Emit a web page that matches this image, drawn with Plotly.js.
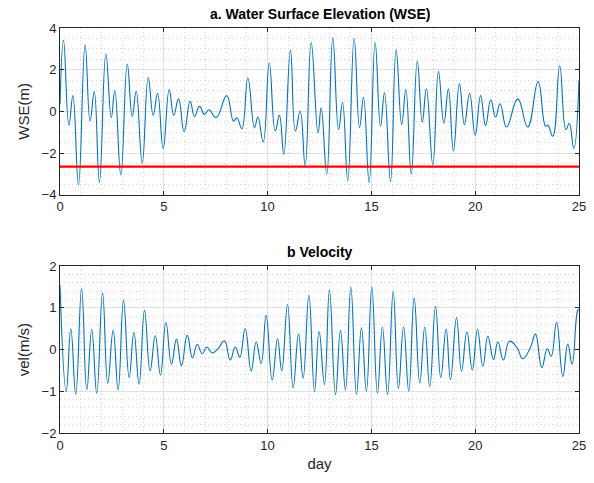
<!DOCTYPE html>
<html>
<head>
<meta charset="utf-8">
<script src="https://cdn.plot.ly/plotly-3.0.1.min.js"></script>
<style>html,body{margin:0;padding:0;background:#fff;}#plot{width:594px;height:483px;}</style>
</head>
<body>
<div id="plot"></div>
<script>
// Water surface elevation: local extremes (day, metres)
const wseDay = [0.00,0.17,0.43,0.62,0.89,1.21,1.45,1.65,1.90,2.21,2.47,2.64,2.93,3.24,3.48,3.67,3.96,4.25,4.49,4.70,4.97,5.26,5.48,5.71,5.98,6.27,6.48,6.72,6.96,7.17,7.52,8.03,8.36,8.52,8.76,9.05,9.37,9.53,9.79,10.08,10.37,10.57,10.78,11.10,11.34,11.57,11.81,12.10,12.43,12.58,12.85,13.14,13.42,13.61,13.86,14.17,14.43,14.62,14.89,15.18,15.44,15.63,15.92,16.19,16.46,16.66,16.92,17.21,17.45,17.65,17.96,18.23,18.49,18.71,18.95,19.24,19.48,19.73,20.00,20.26,20.50,20.75,20.98,21.20,21.51,22.05,22.53,23.03,23.39,23.50,23.74,24.07,24.37,24.53,24.75,25.00];
const wseVal = [0.35,3.41,-0.67,0.76,-3.52,3.19,-0.46,0.95,-3.40,2.75,-0.30,1.00,-3.05,2.27,-0.24,0.97,-2.49,1.63,-0.19,0.87,-1.78,1.05,-0.19,0.60,-0.98,0.49,-0.24,0.24,-0.14,0.08,-0.30,0.76,-0.46,-0.30,-0.83,1.60,-0.78,-0.27,-1.46,2.32,-0.94,-0.19,-2.05,2.94,-0.94,0.02,-2.62,3.30,-1.03,0.17,-3.00,3.54,-0.87,0.44,-3.33,3.51,-0.78,0.68,-3.41,3.30,-0.71,0.89,-3.37,2.95,-0.62,1.05,-3.00,2.43,-0.51,1.08,-2.57,1.92,-0.56,1.08,-1.90,1.32,-0.63,0.87,-1.14,0.76,-0.68,0.56,-0.27,0.37,-0.75,0.60,-0.75,1.43,-0.71,-0.66,-1.19,2.19,-0.88,-0.57,-1.78,1.52];
// Threshold line (m)
const thrDay = [0, 25];
const thrVal = [-2.65, -2.65];
// Velocity: local extremes (day, m/s)
const velDay = [0.00,0.30,0.52,0.76,1.04,1.29,1.53,1.77,2.05,2.30,2.56,2.80,3.06,3.33,3.56,3.81,4.07,4.34,4.59,4.84,5.10,5.37,5.61,5.85,6.13,6.38,6.61,6.85,7.07,7.33,7.60,7.92,8.20,8.44,8.66,8.92,9.21,9.45,9.69,9.93,10.22,10.48,10.68,10.96,11.23,11.49,11.71,11.99,12.26,12.48,12.74,12.98,13.27,13.51,13.75,14.01,14.28,14.52,14.76,15.02,15.29,15.53,15.78,16.05,16.30,16.55,16.80,17.06,17.33,17.57,17.81,18.09,18.34,18.60,18.81,19.10,19.34,19.60,19.86,20.11,20.37,20.61,20.88,21.09,21.36,21.65,22.02,22.29,22.66,22.90,23.21,23.47,23.66,23.92,24.22,24.46,24.67,24.94,25.00];
const velVal = [1.54,-1.01,0.50,-1.07,1.46,-0.96,0.48,-1.05,1.36,-0.81,0.46,-0.97,1.18,-0.67,0.41,-0.83,0.94,-0.51,0.33,-0.61,0.65,-0.35,0.25,-0.39,0.34,-0.20,0.12,-0.10,0.06,-0.08,0.01,0.21,-0.25,0.06,-0.18,0.50,-0.51,0.18,-0.33,0.82,-0.73,0.26,-0.51,1.08,-0.92,0.37,-0.69,1.30,-1.01,0.44,-0.84,1.43,-1.08,0.46,-0.97,1.50,-1.08,0.52,-1.00,1.50,-1.05,0.54,-1.08,1.39,-0.93,0.54,-1.00,1.24,-0.80,0.54,-0.89,1.04,-0.67,0.49,-0.72,0.76,-0.52,0.42,-0.49,0.48,-0.40,0.32,-0.24,0.18,-0.25,0.20,0.04,-0.22,0.05,0.37,-0.43,0.02,-0.16,0.66,-0.64,0.13,-0.35,0.94,0.96];
const xTicks = [0,5,10,15,20,25];
const wseTicks = [-4,-2,0,2,4];
const velTicks = [-2,-1,0,1,2];

const blue = '#0072BD';
const traces = [
  {x: wseDay, y: wseVal, type:'scatter', mode:'lines', line:{color:blue, width:1.1, shape:'spline', smoothing:1.3}, xaxis:'x', yaxis:'y', hoverinfo:'skip'},
  {x: thrDay, y: thrVal, type:'scatter', mode:'lines', line:{color:'#FF0000', width:2.2}, xaxis:'x', yaxis:'y', hoverinfo:'skip'},
  {x: velDay, y: velVal, type:'scatter', mode:'lines', line:{color:blue, width:1.1, shape:'spline', smoothing:1.3}, xaxis:'x2', yaxis:'y2', hoverinfo:'skip'}
];
const font = {family:'"Liberation Sans", Arial, sans-serif', size:13, color:'#262626'};
function xa(anchor, showTitle){
  const a = {anchor:anchor, range:[0,25], tickvals:xTicks, ticks:'inside', ticklen:4, tickcolor:'#262626',
    showline:true, linecolor:'#262626', linewidth:1, mirror:'ticks', zeroline:false,
    showgrid:true, gridcolor:'#e0e0e0', gridwidth:1,
    minor:{dtick:1, showgrid:true, gridcolor:'#d6d6d6', griddash:'1px,3px', gridwidth:1},
    tickfont:{family:font.family, size:13, color:'#262626'}};
  if (showTitle) a.title = {text:'day', font:{family:font.family, size:15, color:'#262626'}, standoff:6};
  return a;
}
function ya(anchor, domain, range, ticks, minorStep, title){
  return {anchor:anchor, domain:domain, range:range, tickvals:ticks, ticks:'inside', ticklen:4, tickcolor:'#262626',
    showline:true, linecolor:'#262626', linewidth:1, mirror:'ticks', zeroline:false,
    showgrid:true, gridcolor:'#e0e0e0', gridwidth:1,
    minor:{dtick:minorStep, showgrid:true, gridcolor:'#d6d6d6', griddash:'1px,3px', gridwidth:1},
    tickfont:{family:font.family, size:13, color:'#262626'},
    title:{text:title, font:{family:font.family, size:15, color:'#262626'}, standoff:8}};
}
const layout = {
  width:594, height:483, margin:{l:60, r:15, t:28, b:50},
  paper_bgcolor:'#ffffff', plot_bgcolor:'#ffffff', showlegend:false, font:font,
  xaxis: xa('y', false),
  yaxis: ya('x', [0.588,1], [-4,4], wseTicks, 0.5, 'WSE(m)'),
  xaxis2: xa('y2', true),
  yaxis2: ya('x2', [0,0.412], [-2,2], velTicks, 0.2, 'vel(m/s)'),
  annotations:[
    {text:'<b>a. Water Surface Elevation (WSE)</b>', xref:'paper', yref:'paper', x:0.5, y:1, yshift:4, xanchor:'center', yanchor:'bottom', showarrow:false, font:{family:font.family, size:14, color:'#000'}},
    {text:'<b>b Velocity</b>', xref:'paper', yref:'paper', x:0.5, y:0.412, yshift:4, xanchor:'center', yanchor:'bottom', showarrow:false, font:{family:font.family, size:14, color:'#000'}}
  ]
};
Plotly.newPlot('plot', traces, layout, {staticPlot:true, displayModeBar:false});
</script>
</body>
</html>
